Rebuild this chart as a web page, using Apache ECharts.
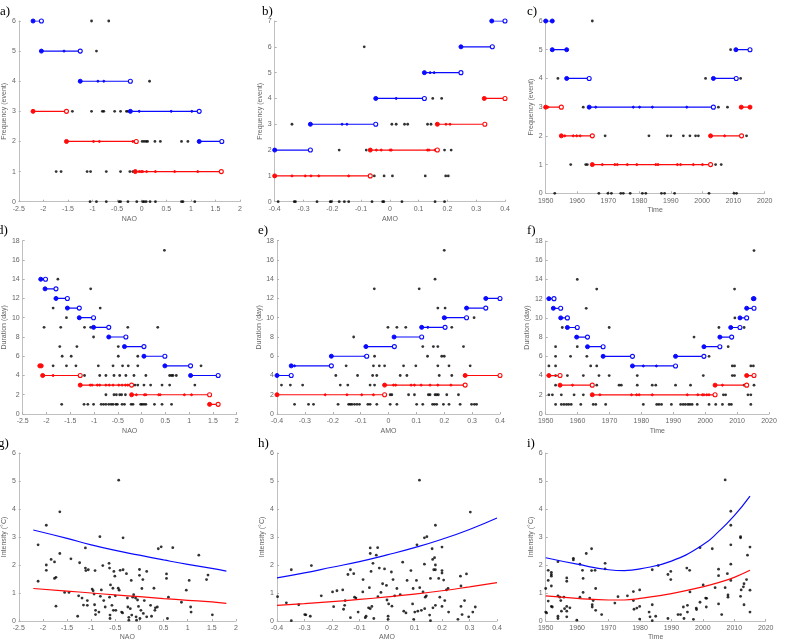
<!DOCTYPE html>
<html><head><meta charset="utf-8">
<script src="https://cdn.jsdelivr.net/npm/echarts@6/dist/echarts.min.js"></script>
<style>html,body{margin:0;padding:0;background:#fff}#c{width:786px;height:642px}</style>
</head><body><div id="c"></div>
<script>
// ---------- DATA ----------
// segment format: [y, xStart, xEnd, [intermediate x], endFilled]
const aBlueSeg = [[6,-2.21,-2.04,[]],[5,-2.04,-1.25,[-1.58]],[4,-1.25,-0.23,[-0.89,-0.77]],[3,-0.23,1.17,[-0.05,0.60,1.02]],[2,1.17,1.63,[]]];
const aRedSeg = [[3,-2.21,-1.53,[]],[2,-1.53,-0.11,[-0.98,-0.86,-0.18]],[1,-0.13,1.62,[-0.05,-0.01,0.02,0.10,0.28,0.67,1.14]]];
const aDots = [[-1.02,6],[-0.67,6],[-0.92,5],[0.16,4],
 [-1.41,3],[-1.02,3],[-0.80,3],[-0.77,3],[-0.55,3],[-0.43,3],[-0.31,3],[-0.28,3],
 [0.01,2],[0.05,2],[0.09,2],[0.12,2],[0.27,2],[0.38,2],[0.81,2],[0.94,2],
 [-1.74,1],[-1.64,1],[-1.11,1],[-1.04,1],[-0.72,1],[-0.43,1],[-0.24,1],[-0.18,1],
 [-1.05,0],[-0.92,0],[-0.72,0],[-0.46,0],[-0.43,0],[-0.28,0],[-0.10,0],[0.02,0],[0.05,0],[0.09,0],[0.17,0],[0.28,0],[0.81,0],[0.84,0],[1.08,0]];

const bBlueSeg = [[7,0.354,0.40,[]],[6,0.247,0.356,[]],[5,0.12,0.247,[0.14,0.154]],[4,-0.049,0.12,[0.022]],[3,-0.276,-0.049,[-0.166,-0.149]],[2,-0.40,-0.276,[]]];
const bRedSeg = [[4,0.328,0.40,[]],[3,0.165,0.33,[0.195,0.209]],[2,-0.068,0.165,[-0.047,-0.03,0.001,0.005,0.131,0.136,0.157,0.163]],[1,-0.40,-0.068,[-0.34,-0.294,-0.274,-0.247,-0.143]]];
const bDots = [[-0.089,6],[0.149,4],[0.18,4],
 [-0.34,3],[0.007,3],[0.022,3],[0.051,3],[0.062,3],[0.131,3],[0.143,3],
 [-0.176,2],[-0.082,2],[0.19,2],[0.213,2],
 [-0.054,1],[-0.02,1],[0.009,1],[0.123,1],[0.194,1],[0.203,1],
 [-0.388,0],[-0.332,0],[-0.328,0],[-0.253,0],[-0.207,0],[-0.203,0],[-0.176,0],[-0.158,0],[-0.143,0],[-0.062,0],[-0.025,0],[-0.021,0],[0.042,0],[0.157,0],[0.19,0]];

const cBlueSeg = [[6,1950,1952.1,[],1],[5,1952.1,1956.7,[],1],[4,1956.7,1963.9,[]],[3,1963.9,2003.6,[1966,1978,1980,1984.1,1995.1]],[4,2003.6,2010.9,[]],[5,2010.8,2015.3,[]]];
const cRedSeg = [[3,1950,1955,[1950.7]],[2,1955,1964.9,[1956.1,1958.8,1959.9,1961]],[1,1964.9,2002.7,[1968.1,1972.1,1972.9,1976.1,1979.1,1985.2,1985.9,1992.1,1993.1,1997.2,2000.1]],[2,2002.7,2012.6,[2007.2]],[3,2012.5,2015.3,[],1]];
const cDots = [[1964.9,6],[2009.1,5],[1953.9,4],[2001.1,4],[2012.3,4],
 [1962,3],[2005.2,3],[2008.1,3],
 [1969,2],[1983,2],[1988.9,2],[1990,2],[1994,2],[1996.1,2],[1997.9,2],[1998.8,2],[2014.2,2],
 [1958,1],[1962.8,1],[1963.3,1],[2004.3,1],[2006.1,1],
 [1952.9,0],[1967,0],[1969.9,0],[1971,0],[1974,0],[1974.8,0],[1977,0],[1980.9,0],[1982,0],[1987,0],[1988,0],[1991.2,0],[2002.2,0],[2010.2,0],[2011,0]];

const dBlueSeg = [[14,-2.12,-2.02,[]],[13,-2.03,-1.80,[]],[12,-1.80,-1.56,[]],[11,-1.56,-1.31,[]],[10,-1.31,-1.01,[]],[9,-1.01,-0.69,[]],[8,-0.69,-0.33,[]],[7,-0.36,0.05,[]],[6,0.05,0.49,[]],[5,0.49,1.03,[]],[4,1.03,1.61,[]]];
const dRedSeg = [[5,-2.14,-2.11,[],1],[4,-2.08,-1.29,[-1.86]],[3,-1.29,-0.21,[-1.08,-1.04,-0.93,-0.88,-0.75,-0.68,-0.60,-0.48,-0.41,-0.34,-0.29]],[2,-0.21,1.43,[-0.11,0.06,0.09,0.36,0.39,0.90,1.05]],[1,1.43,1.61,[]]];
const dDots = [[0.48,17],[-1.76,14],[-1.07,13],[-1.86,11],[-0.87,11],[-1.58,10],
 [-2.05,9],[-1.70,9],[-1.20,9],[-1.07,9],[-0.29,9],[0.34,9],[-1.01,8],
 [-1.72,7],[-1.36,7],[-0.49,7],[-1.67,6],[-1.48,6],[-0.49,6],[-0.08,6],
 [-1.86,5],[-1.58,5],[-1.38,5],[-0.91,5],[-0.60,5],[-0.40,5],[-0.28,5],[-0.08,5],[1.25,5],
 [-1.20,4],[-0.88,4],[-0.75,4],[-0.58,4],[-0.46,4],[-0.33,4],[-0.16,4],[0.09,4],[0.59,4],[0.63,4],[0.66,4],[0.73,4],
 [-0.14,3],[-0.08,3],[0.05,3],[0.19,3],[0.43,3],[0.59,3],[1.12,3],
 [-0.75,2],[-0.58,2],[-0.53,2],[-0.46,2],[-0.42,2],[-0.34,2],
 [-1.68,1],[-1.21,1],[-1.13,1],[-1.01,1],[-0.85,1],[-0.80,1],[-0.75,1],[-0.69,1],[-0.64,1],[-0.60,1],[-0.54,1],[-0.51,1],[-0.41,1],[-0.36,1],[-0.22,1],[-0.18,1],[-0.02,1],[0.01,1],[0.05,1],[0.09,1],[0.27,1],[0.43,1],[0.63,1]];

const eBlueSeg = [[12,0.349,0.40,[]],[11,0.28,0.349,[]],[10,0.20,0.28,[0.205]],[9,0.119,0.203,[0.141]],[8,0.02,0.119,[]],[7,-0.081,0.021,[]],[6,-0.205,-0.078,[-0.084]],[5,-0.349,-0.205,[-0.337]],[4,-0.40,-0.349,[]]];
const eRedSeg = [[4,0.275,0.40,[]],[3,-0.014,0.275,[0.018,0.026,0.081,0.093,0.117,0.149,0.177,0.224]],[2,-0.40,-0.014,[-0.227,-0.149,-0.096,-0.054]]];
const eDots = [[0.20,17],[0.167,14],[-0.051,13],[0.11,13],[0.177,11],[0.203,11],[0.307,10],
 [-0.002,9],[0.03,9],[0.062,9],[0.227,9],[-0.125,8],
 [0.123,7],[0.161,7],[0.177,7],[0.269,7],[-0.05,6],[0.14,6],[0.191,6],[0.20,6],
 [-0.152,5],[-0.054,5],[-0.033,5],[-0.014,5],[0.054,5],[0.098,5],[0.177,5],[0.217,5],[0.293,5],
 [-0.189,4],[-0.111,4],[-0.057,4],[-0.042,4],[0.042,4],[0.066,4],[0.182,4],[0.227,4],
 [-0.384,3],[-0.352,3],[-0.308,3],[-0.173,3],[-0.146,3],[-0.066,3],[-0.05,3],
 [0.006,2],[0.012,2],[0.072,2],[0.093,2],[0.143,2],[0.149,2],[0.167,2],[0.173,2],[0.179,2],[0.209,2],[0.251,2],
 [-0.337,1],[-0.287,1],[-0.269,1],[-0.181,1],[-0.143,1],[-0.137,1],[-0.131,1],[-0.122,1],[-0.113,1],[-0.104,1],[-0.074,1],[-0.066,1],[-0.042,1],[0.006,1],[0.03,1],[0.101,1],[0.123,1],[0.158,1],[0.165,1],[0.173,1],[0.197,1],[0.217,1],[0.257,1],[0.298,1],[0.308,1],[0.316,1]];

const fBlueSeg = [[12,1951,1952.6,[]],[11,1952.4,1954.7,[]],[10,1954.7,1956.8,[]],[9,1956.8,1959.9,[]],[8,1959.7,1963.1,[]],[7,1963.1,1968,[]],[6,1968,1977.2,[]],[5,1977.2,1990.7,[1980.6,1984.7]],[6,1990.7,1999.6,[]],[7,1999.6,2004.6,[]],[8,2004.6,2008.3,[]],[9,2008,2010.9,[]],[10,2010.9,2013,[]],[11,2013,2015.3,[]],[12,2015.1,2015.3,[],1]];
const fRedSeg = [[4,1951,1954.5,[]],[3,1954.5,1964.6,[1958.4]],[2,1964.6,2003.1,[1967,1976.9,1978.5,1979.3,1983.4,1994.4,1997.7,1999.1,1999.6,2000.5,2001.2]],[3,2003.1,2013,[2005.4]],[4,2013,2015.3,[]]];
const fDots = [[2015.3,17],[1959.9,14],[1966,13],[2009.2,13],[1962.7,11],[2009.3,10],
 [1955.2,9],[1969.9,9],[2004.3,9],[2012.2,9],[1996.5,8],
 [1953.1,7],[1959.9,7],[2007.2,7],[1953.1,6],[1957.8,6],[1962.9,6],[2001.2,6],
 [1951,5],[1953.1,5],[1964.1,5],[1966,5],[2008.5,5],[2009.2,5],[2014.3,5],[2015.1,5],
 [1953.1,4],[1956.8,4],[1961.8,4],[1966.7,4],[1969.9,4],[1978.7,4],[1999.4,4],[2008.5,4],[2009.2,4],
 [1953.1,3],[1966,3],[1973,3],[1973.7,3],[1978.7,3],[1983.4,3],[1984.5,3],[1990.7,3],[1995.4,3],[2012.2,3],[2015.3,3],
 [1951,2],[1952.1,2],[1954.9,2],[1958.9,2],[1961.8,2],[2005.7,2],[2006.4,2],[2013.4,2],[2014.3,2],
 [1953.1,1],[1954.9,1],[1955.7,1],[1956.5,1],[1957.2,1],[1958,1],[1961,1],[1964.9,1],[1965.7,1],[1968.8,1],[1980.6,1],[1984.8,1],[1985.5,1],[1986.3,1],[1989.4,1],[1992.3,1],[1993.1,1],[1993.8,1],[1994.6,1],[1995.2,1],[1995.9,1],[1997.5,1],[2001.2,1],[2003.3,1],[2005.4,1],[2007.5,1],[2008.2,1],[2014.3,1]];

const gCurveX = [-2.2,-1.5,-1,-0.5,0,0.5,1,1.5,1.8];
const gBlueY = [3.25,2.95,2.72,2.52,2.35,2.18,2.02,1.88,1.78];
const gRedY = [1.16,1.07,1.00,0.93,0.87,0.80,0.74,0.68,0.63];
const gDots = [[-2.10,2.72],[-2.10,1.42],[-1.93,3.42],[-1.93,2.00],[-1.93,1.81],[-1.83,2.20],[-1.76,2.11],[-1.76,1.52],[-1.73,1.56],[-1.73,0.53],
 [-1.65,3.90],[-1.65,2.41],[-1.55,1.02],[-1.46,1.02],[-1.42,2.22],[-1.28,0.17],[-1.24,2.08],[-1.26,0.90],[-1.19,0.82],[-1.16,0.57],
 [-1.12,2.61],[-1.12,1.89],[-1.11,1.80],[-1.08,0.56],[-1.06,1.83],[-1.08,0.73],[-0.98,1.14],[-0.96,1.08],[-0.94,0.96],[-0.93,0.58],
 [-0.92,1.80],[-0.91,0.38],[-0.91,0.23],[-0.84,0.32],[-0.82,3.01],[-0.81,0.88],[-0.79,1.11],[-0.76,1.98],[-0.74,0.73],[-0.71,0.50],
 [-0.63,2.06],[-0.62,0.85],[-0.62,1.89],[-0.61,0.21],[-0.61,0.09],[-0.60,1.29],[-0.57,0.56],[-0.55,1.17],[-0.53,1.77],[-0.54,0.38],
 [-0.51,1.60],[-0.50,0.90],[-0.49,0.38],[-0.43,5.03],[-0.44,1.17],[-0.42,1.10],[-0.40,1.81],[-0.37,0.32],[-0.35,0.29],[-0.34,2.97],
 [-0.34,1.83],[-0.27,1.69],[-0.25,0.82],[-0.24,0.50],[-0.22,0.13],[-0.22,0.03],[-0.19,0.44],[-0.17,1.45],[-0.16,0.21],[-0.14,0.85],
 [-0.12,0.94],[-0.08,0.82],[-0.07,0.15],[-0.06,0.03],[-0.04,0.75],[-0.02,0.52],[0.00,1.84],[0.00,1.63],[0.01,0.09],[0.03,0.38],
 [0.05,1.16],[0.07,1.48],[0.08,0.27],[0.10,0.73],[0.15,1.77],[0.15,0.15],[0.23,0.56],[0.25,0.17],[0.30,1.17],[0.32,0.38],
 [0.33,0.47],[0.37,0.50],[0.39,2.58],[0.45,2.65],[0.56,1.68],[0.56,1.52],[0.58,0.09],[0.60,0.85],[0.69,2.62],[0.87,0.67],
 [0.97,1.10],[1.03,1.45],[1.06,0.50],[1.07,0.32],[1.23,2.35],[1.39,1.48],[1.42,1.64],[1.51,0.22]];

const hCurveX = [-0.4,-0.3,-0.2,-0.1,0,0.1,0.2,0.3,0.4];
const hBlueY = [1.54,1.72,1.92,2.12,2.36,2.62,2.92,3.27,3.68];
const hRedY = [0.56,0.62,0.69,0.77,0.86,0.96,1.08,1.22,1.37];
const hDots = [[-0.398,0.87],[-0.366,0.65],[-0.348,1.83],[-0.348,0.01],[-0.321,0.58],[-0.299,0.23],[-0.295,0.22],[-0.279,0.17],[-0.275,1.98],[-0.239,0.90],
 [-0.198,1.04],[-0.194,0.51],[-0.182,1.08],[-0.161,1.11],[-0.158,0.42],[-0.154,0.56],[-0.152,0.73],[-0.142,1.66],[-0.133,1.83],[-0.133,0.12],
 [-0.121,1.69],[-0.118,0.85],[-0.113,0.82],[-0.105,0.32],[-0.088,1.04],[-0.087,1.48],[-0.079,0.12],[-0.076,0.17],[-0.067,0.47],[-0.064,1.19],
 [-0.061,2.61],[-0.061,2.41],[-0.058,1.77],[-0.061,0.44],[-0.055,0.52],[-0.051,2.06],[-0.048,0.09],[-0.039,2.35],[-0.034,2.62],[-0.033,0.87],
 [-0.028,1.89],[-0.022,1.02],[-0.016,1.33],[-0.009,1.86],[-0.002,1.27],[0.0,0.75],[0.004,0.17],[0.004,0.06],[0.006,0.61],[0.016,1.75],
 [0.018,0.53],[0.022,1.48],[0.028,0.90],[0.036,1.16],[0.048,0.94],[0.057,2.10],[0.061,0.35],[0.069,0.29],[0.073,1.45],[0.087,1.80],
 [0.093,0.61],[0.095,1.16],[0.097,0.06],[0.101,0.32],[0.107,1.45],[0.109,2.72],[0.112,0.35],[0.118,5.03],[0.119,1.19],[0.125,0.38],
 [0.131,1.04],[0.136,2.97],[0.136,2.03],[0.137,0.44],[0.139,0.85],[0.143,0.90],[0.145,3.01],[0.155,0.21],[0.158,0.01],[0.158,1.52],
 [0.164,2.58],[0.166,2.20],[0.167,0.47],[0.170,1.83],[0.173,2.26],[0.176,3.42],[0.176,1.83],[0.176,2.00],[0.176,0.56],[0.188,1.52],
 [0.192,0.85],[0.2,2.64],[0.2,1.80],[0.2,1.71],[0.2,0.52],[0.206,1.46],[0.21,0.73],[0.216,1.11],[0.222,1.16],[0.224,0.32],
 [0.258,0.06],[0.267,1.60],[0.269,1.25],[0.269,0.52],[0.273,0.23],[0.282,0.73],[0.289,1.68],[0.297,0.15],[0.303,3.89],[0.312,0.32],[0.321,0.50]];

const iCurveX = [1950,1960,1970,1975,1980,1990,2000,2005,2010,2015];
const iBlueY = [2.26,2.03,1.83,1.80,1.86,2.14,2.72,3.19,3.76,4.46];
const iRedY = [0.90,0.81,0.75,0.75,0.81,0.98,1.22,1.37,1.56,1.81];
const iDots = [[1950,1.16],[1950,0.32],[1950.3,0.29],[1950.8,1.81],[1950.8,1.45],[1950.8,0.71],[1951.8,1.74],[1951.8,1.66],[1951.8,1.60],[1951.8,1.25],
 [1951.8,0.52],[1952.1,0.50],[1953.9,2.12],[1953.9,0.90],[1953.9,0.17],[1953.9,0.09],[1954.5,0.85],[1954.8,0.73],[1955,0.35],[1955.8,0.85],
 [1956,0.44],[1956.7,1.54],[1956.7,1.42],[1956.7,0.52],[1956.7,0.35],[1956.7,0.15],[1957.7,0.47],[1958.8,2.24],[1958.8,2.18],[1959.9,0.03],
 [1960.9,2.03],[1960.9,0.85],[1961.7,1.81],[1961.9,1.52],[1961.9,1.02],[1962.9,2.41],[1964,0.82],[1964.6,2.58],[1964.6,1.80],[1964.8,0.58],
 [1964.8,0.50],[1965.1,0.73],[1965.7,1.81],[1965.9,1.16],[1965.9,0.38],[1967.8,0.23],[1968.9,2.06],[1968.9,1.86],[1972,0.64],[1973,0.87],
 [1976,0.90],[1977.9,1.05],[1977.9,0.73],[1978.1,0.42],[1979,0.46],[1979.9,1.11],[1979.9,0.52],[1979.9,0.07],[1982.9,0.32],[1983.2,0.15],
 [1983.9,1.83],[1983.9,0.58],[1983.9,0.01],[1985,0.17],[1985.8,1.98],[1988.9,0.09],[1988.9,1.66],[1989.8,1.77],[1989.8,1.48],[1992.1,0.23],
 [1992.9,0.23],[1993.8,0.50],[1994,0.09],[1994.9,1.89],[1995.1,0.56],[1995.1,0.32],[1995.8,1.81],[1995.9,1.04],[1997,0.06],[1997.9,0.46],
 [1998,0.41],[1999.1,2.62],[1999.1,0.67],[2000.1,1.29],[2000.9,0.82],[2001.1,0.50],[2001.2,0.81],[2003,2.58],[2003.9,1.19],[2005,1.85],
 [2005,1.62],[2005,0.61],[2006,0.23],[2007.1,5.04],[2007.1,1.19],[2007.8,1.69],[2008,0.93],[2008,0.85],[2008.9,3.92],[2008.9,3.42],
 [2008.9,2.72],[2008.9,2.03],[2008.9,1.45],[2012,3.01],[2012,2.97],[2012,0.88],[2012.2,1.11],[2012.9,1.22],[2013.1,1.33],[2013.1,0.58],
 [2013.9,1.48],[2014.2,2.35],[2015,2.64],[2015,1.10],[2015,0.32]];

// ---------- LAYOUT / STYLE ----------
const BLUE = '#0a0aff', RED = '#ff0a0a';
const panels = [
 {lab:'a)', lx:0, ly:5, g:[13,21,227,180.7], x:[-2.5,2,0.5], y:[0,6,1], xn:'NAO', yn:'Frequency (event)', yg:9, xg:14},
 {lab:'b)', lx:262, ly:5, g:[274.7,21,230.3,180.7], x:[-0.4,0.4,0.1], y:[0,7,1], xn:'AMO', yn:'Frequency (event)', yg:9, xg:14},
 {lab:'c)', lx:527, ly:5, g:[545.7,21,219,172.3], x:[1950,2020,10], y:[0,6,1], xn:'Time', yn:'Frequency (event)', yg:9, xg:13},
 {lab:'d)', lx:-3, ly:224, g:[12.7,240.7,224,173.3], x:[-2.5,2,0.5], y:[0,18,2], xn:'NAO', yn:'Duration (day)', yg:9, xg:14},
 {lab:'e)', lx:258, ly:224, g:[277,240.7,223,173.3], x:[-0.4,0.4,0.1], y:[0,18,2], xn:'AMO', yn:'Duration (day)', yg:9, xg:14},
 {lab:'f)', lx:527, ly:224, g:[545.7,241,223.3,173], x:[1950,2020,10], y:[0,18,2], xn:'Time', yn:'Duration (day)', yg:12, xg:14},
 {lab:'g)', lx:-2, ly:437, g:[12.7,453,223.3,172.7], x:[-2.5,2,0.5], y:[0,6,1], xn:'NAO', yn:'Intensity (°C)', yg:9, xg:13},
 {lab:'h)', lx:258, ly:437, g:[277,453,220,172.7], x:[-0.4,0.4,0.1], y:[0,6,1], xn:'AMO', yn:'Intensity (°C)', yg:11, xg:13},
 {lab:'i)', lx:527, ly:437, g:[545.7,453,220,172.7], x:[1950,2020,10], y:[0,6,1], xn:'Time', yn:'Intensity (°C)', yg:11, xg:13}
];
const axisCol = '#b0b0b0', labCol = '#666';
const font = 'Liberation Sans';

const grid = [], xAxis = [], yAxis = [], series = [], graphic = [];
panels.forEach((p, i) => {
  grid.push({left:p.g[0], top:p.g[1], width:p.g[2], height:p.g[3]});
  const amo = p.x[2] === 0.1;
  xAxis.push({type:'value', gridIndex:i, min:p.x[0], max:p.x[1], interval:p.x[2],
    name:p.xn, nameLocation:'middle', nameGap:p.xg, nameTextStyle:{fontSize:7, color:labCol, fontFamily:font},
    axisLine:{onZero:false, lineStyle:{color:axisCol, width:0.8}}, axisTick:{inside:true, length:2, lineStyle:{color:axisCol}},
    axisLabel:{fontSize:7, color:labCol, margin:4, fontFamily:font, formatter: v => amo ? String(+v.toFixed(1)) : String(+v.toFixed(2))},
    splitLine:{show:false}});
  yAxis.push({type:'value', gridIndex:i, min:p.y[0], max:p.y[1], interval:p.y[2],
    name:p.yn, nameLocation:'middle', nameGap:p.yg, nameRotate:90, nameTextStyle:{fontSize:7, color:labCol, fontFamily:font},
    axisLine:{show:true, onZero:false, lineStyle:{color:axisCol, width:0.8}}, axisTick:{show:true, inside:true, length:2, lineStyle:{color:axisCol}},
    axisLabel:{fontSize:7, color:labCol, margin:3, fontFamily:font}, splitLine:{show:false}});
  graphic.push({type:'text', left:p.lx, top:p.ly, style:{text:p.lab, font:'13px "Liberation Serif"', fill:'#000'}});
});

function addSegs(segs, color, gi) {
  segs.forEach(s => {
    const [y, x1, x2, mids, endFilled] = s;
    const data = [{value:[x1,y], symbol:'circle', symbolSize:4}];
    mids.forEach(m => data.push({value:[m,y], symbol:'circle', symbolSize:2}));
    data.push(endFilled ? {value:[x2,y], symbol:'circle', symbolSize:4}
      : {value:[x2,y], symbol:'circle', symbolSize:4, itemStyle:{color:'#fff', borderColor:color, borderWidth:1.1}});
    series.push({type:'line', xAxisIndex:gi, yAxisIndex:gi, data, showSymbol:true, showAllSymbol:true,
      lineStyle:{color, width:1.2}, itemStyle:{color, borderColor:color, borderWidth:1}, silent:true, z:3});
  });
}
function addDots(pts, gi) {
  series.push({type:'scatter', xAxisIndex:gi, yAxisIndex:gi, data:pts, symbol:'circle', symbolSize:2.8,
    itemStyle:{color:'#000'}, silent:true, z:2});
}
function addCurve(xs, ys, color, gi) {
  series.push({type:'line', xAxisIndex:gi, yAxisIndex:gi, data:xs.map((x,k)=>[x, ys[k]]), smooth:true, showSymbol:false,
    lineStyle:{color, width:1.2}, silent:true, z:3});
}

addDots(aDots,0); addSegs(aRedSeg,RED,0); addSegs(aBlueSeg,BLUE,0);
addDots(bDots,1); addSegs(bRedSeg,RED,1); addSegs(bBlueSeg,BLUE,1);
addDots(cDots,2); addSegs(cRedSeg,RED,2); addSegs(cBlueSeg,BLUE,2);
addDots(dDots,3); addSegs(dRedSeg,RED,3); addSegs(dBlueSeg,BLUE,3);
addDots(eDots,4); addSegs(eRedSeg,RED,4); addSegs(eBlueSeg,BLUE,4);
addDots(fDots,5); addSegs(fRedSeg,RED,5); addSegs(fBlueSeg,BLUE,5);
addDots(gDots,6); addCurve(gCurveX,gBlueY,BLUE,6); addCurve(gCurveX,gRedY,RED,6);
addDots(hDots,7); addCurve(hCurveX,hBlueY,BLUE,7); addCurve(hCurveX,hRedY,RED,7);
addDots(iDots,8); addCurve(iCurveX,iBlueY,BLUE,8); addCurve(iCurveX,iRedY,RED,8);

const chart = echarts.init(document.getElementById('c'), null, {renderer:'canvas'});
chart.setOption({animation:false, backgroundColor:'#fff', grid, xAxis, yAxis, series, graphic});
</script></body></html>
